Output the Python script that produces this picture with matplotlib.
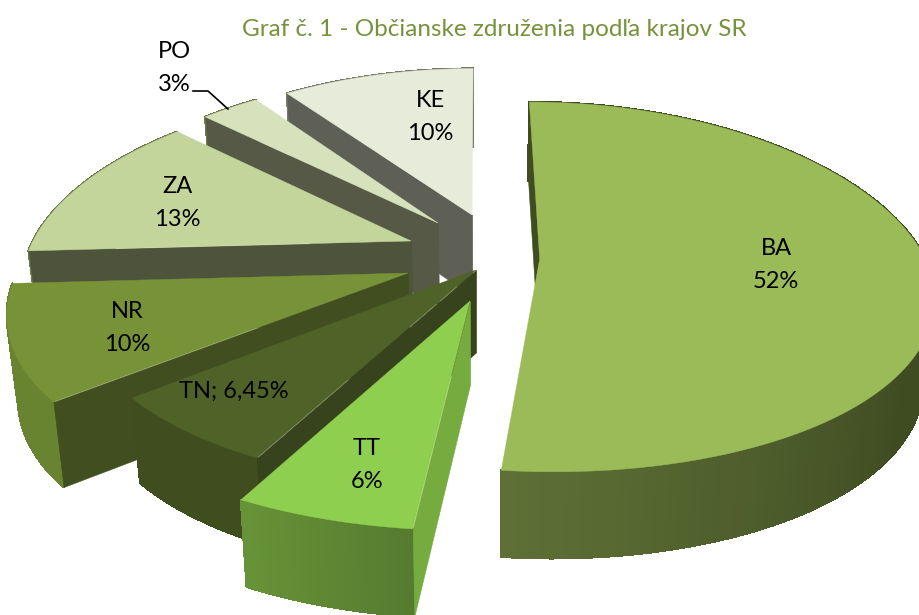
import numpy as np
import matplotlib
matplotlib.use("Agg")
import matplotlib.pyplot as plt
from matplotlib.collections import PolyCollection
from matplotlib.colors import to_rgb

# data
categories = ["BA", "TT", "TN", "NR", "ZA", "PO", "KE"]
values = [52, 6, 6.45, 10, 13, 3, 10]
label_texts = ["BA\n52%", "TT\n6%", "TN; 6,45%", "NR\n10%", "ZA\n13%", "PO\n3%", "KE\n10%"]
title = "Graf č. 1 - Občianske združenia podľa krajov SR"

# layout / style
explode_x = [0.160, -0.020, -0.005, -0.179, -0.177, -0.108, -0.016]
explode_y = [-0.050, -0.275, -0.110, -0.127, 0.051, 0.155, 0.203]
label_pos = [(776, 265), (367, 465), (234, 391), (127, 328), (177, 203), (174, 68), (430, 117)]
top_col = ["#9BBB59", "#8FCF50", "#4F6228", "#789237", "#C3D59B", "#D7E2BC", "#E6ECD9"]
wall_col = ["#3F4D20", "#76AB3F", "#37431C", "#414F20", "#4E533B", "#555945", "#5E5F55"]
outer_a = ["#3F4C22", "#567B2F", "#3F4D1F", "#688430", "#6B7A48", "#6B7A48", "#777A66"]
outer_b = ["#5E7036", "#679338", "#3F4D1F", "#688430", "#6B7A48", "#6B7A48", "#777A66"]
shade_span = [0.33, 1.0, 1.0, 1.0, 1.0, 1.0, 1.0]
CX, CY, KX, KY, PX_FAR, PX_NEAR, PY = 478.0, 250.0, 382.0, 178.0, 0.20, 0.185, 0.15
SHRINK = 0.976


def project(X, Y):
    sy = 1.0 / (1.0 + PY * Y)
    sx = 1.0 / (1.0 + np.where(Y > 0, PX_FAR, PX_NEAR) * Y)
    return CX + KX * X * sx, CY - KY * Y * sy, sy


def lower(x, y, s):
    return CX + (x - CX) * SHRINK, y + 58 + 24 * s


fig = plt.figure(figsize=(9.19, 6.15), dpi=100)
ax = fig.add_axes([0, 0, 1, 1])
ax.set_xlim(0, 919)
ax.set_ylim(615, 0)
ax.axis("off")

fractions = np.array(values) / np.sum(values)
edges = np.concatenate([[0], np.cumsum(fractions)]) * 2 * np.pi
order = [6, 5, 4, 3, 2, 1, 0]  # painter's order, far to near

for z, i in enumerate(order):
    t = np.linspace(edges[i], edges[i + 1], 120)
    ox, oy, os_ = project(explode_x[i] + np.sin(t), explode_y[i] + np.cos(t))
    ap_x, ap_y, ap_s = project(explode_x[i], explode_y[i])
    bx, by = lower(ox, oy, os_)
    abx, aby = lower(ap_x, ap_y, ap_s)
    base = z * 4

    start_wall = [(ap_x, ap_y), (ox[0], oy[0]), (bx[0], by[0]), (abx, aby)]

    ca, cb = np.array(to_rgb(outer_a[i])), np.array(to_rgb(outer_b[i]))
    quads, cols = [], []
    for j in range(len(t) - 1):
        quads.append([(ox[j], oy[j]), (ox[j + 1], oy[j + 1]), (bx[j + 1], by[j + 1]), (bx[j], by[j])])
        u = j / (len(t) - 2)
        u = np.clip((u - (1 - shade_span[i])) / shade_span[i], 0, 1)
        cols.append(ca * (1 - u) + cb * u)
    ax.add_collection(PolyCollection(quads, facecolors=cols, edgecolors=cols,
                                     linewidths=1.0, antialiaseds=False, zorder=base + 1))

    ax.add_collection(PolyCollection([start_wall], facecolors=wall_col[i], edgecolors=wall_col[i],
                                     linewidths=0.4, zorder=base + 2))

    top = np.column_stack([np.r_[ap_x, ox], np.r_[ap_y, oy]])
    ax.fill(top[:, 0], top[:, 1], color=top_col[i], lw=0.3, zorder=base + 3)

for txt, (x, y) in zip(label_texts, label_pos):
    ax.text(x, y, txt, ha="center", va="center", fontsize=17, family="Lato",
            color="black", linespacing=1.7, zorder=50)

ax.plot([193, 208, 228], [91, 91, 109], color="black", lw=1.2, zorder=51)
ax.text(494.5, 29, title, ha="center", va="center", fontsize=17.5, family="Lato",
        color="#76923C", zorder=50)

fig.savefig("out.png", dpi=100)
